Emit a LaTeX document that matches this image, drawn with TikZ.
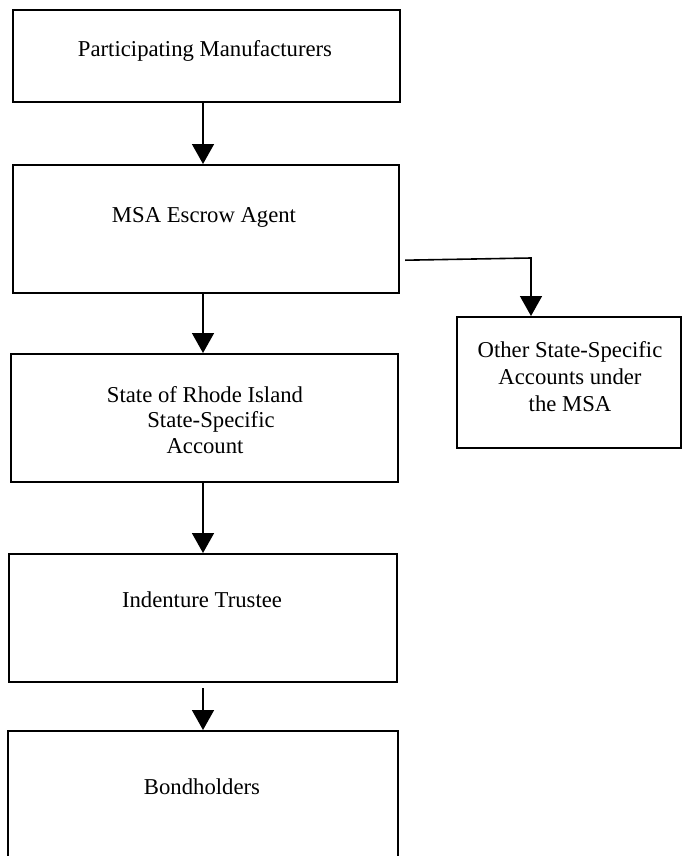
\documentclass[tikz,border=0pt]{standalone}
\usepackage{fontspec}
\setmainfont{Liberation Serif}
\usetikzlibrary{arrows.meta,calc}
\begin{document}
\begin{tikzpicture}[x=1pt,y=-1pt,
  box/.style={draw=black,line width=2.2pt,inner sep=0pt,anchor=north west},
  txt/.style={inner sep=0pt,align=center,font=\fontsize{22.7}{25.5}\selectfont},
  arr/.style={draw=black,line width=1.6pt,-{Triangle[width=22pt,length=20pt]}}]
\useasboundingbox (0,0) rectangle (684,856);
% boxes
\node[box,minimum width=387pt,minimum height=92pt] (b1) at (12,9) {};
\node[box,minimum width=386pt,minimum height=128pt] (b2) at (12,164) {};
\node[box,minimum width=387pt,minimum height=128pt] (b3) at (10,353) {};
\node[box,minimum width=224pt,minimum height=131pt] (b4) at (456,316) {};
\node[box,minimum width=388pt,minimum height=128pt] (b5) at (8,553) {};
\node[box,minimum width=390pt,minimum height=128pt] (b6) at (7,730) {};
% texts
\node[txt,anchor=base] (t1) at (205,57) {Participating Manufacturers};
\node[txt,anchor=base] (t2) at (204,222) {MSA Escrow Agent};
\node[txt] (t3) at (205,420) {State of Rhode Island\\\hspace*{12pt}State-Specific\\Account};
\node[txt,font=\fontsize{22.7}{27}\selectfont] (t4) at (570,377) {Other State-Specific\\Accounts under\\the MSA};
\node[txt,anchor=base] (t5) at (202,607) {Indenture Trustee};
\node[txt,anchor=base] (t6) at (202,794) {Bondholders};
% connectors
\coordinate (s2) at ($(b2.south east)+(5,-34)$);
\coordinate (turn) at (531,258);
\draw[arr] (b1.south -| 203,0) -- (b2.north -| 203,0);
\draw[arr] (b2.south -| 203,0) -- (b3.north -| 203,0);
\draw[arr] (b3.south -| 203,0) -- (b5.north -| 203,0);
\draw[arr,shorten <=5pt] (b5.south -| 203,0) -- (b6.north -| 203,0);
\draw[arr] (s2) -- (turn) -- (turn |- b4.north);
\end{tikzpicture}
\end{document}
